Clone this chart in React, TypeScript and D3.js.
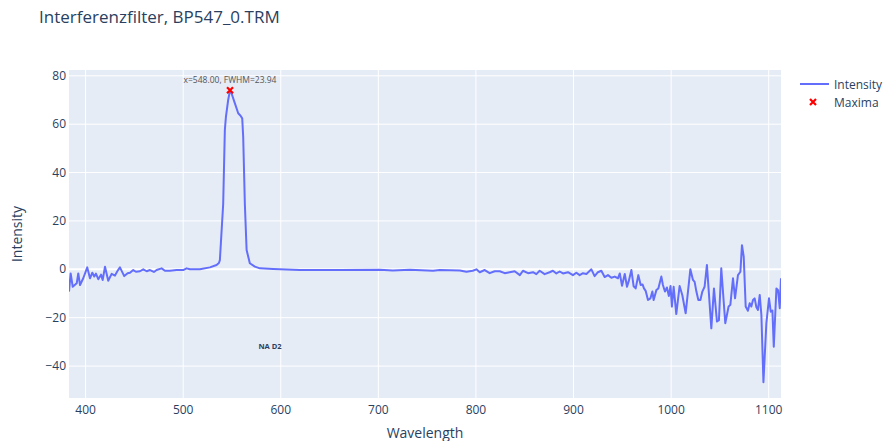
import React from "react";
import * as d3 from "d3";

const wavelength = [
  383.0, 384.7, 386.8, 390.9, 392.5, 394.3, 397.6, 401.7, 404.5, 406.9, 408.9, 410.6, 413.0, 415.8, 417.5, 419.9,
  423.2, 426.7, 430.1, 432.5, 435.2, 439.6, 443.1, 445.5, 448.8, 451.6, 455.7, 459.1, 462.6, 466.0, 470.0, 472.8,
  477.9, 481.3, 486.4, 493.3, 500.0, 503.5, 506.9, 517.1, 527.4, 534.2, 536.6, 537.6, 541.0, 542.7, 543.8, 546.1,
  548.0, 549.6, 553.0, 556.4, 558.8, 560.5, 561.5, 563.2, 565.0, 568.3, 573.5, 578.6, 592.2,
  619.5, 660.5, 701.5, 714.8, 732.2, 756.1, 763.0, 783.5, 790.3, 796.7, 800.5, 803.9, 809.0, 814.1, 819.2, 824.4,
  829.5, 834.6, 839.7, 845.0, 848.2, 853.4, 858.5, 861.9, 865.3, 870.4, 875.5, 878.9, 882.4, 885.8, 889.2, 894.3,
  899.4, 902.9, 906.3, 909.7, 913.2, 918.3, 921.6, 925.0, 928.5, 931.9, 935.3, 938.8, 942.2, 945.6, 947.4, 949.7,
  952.5, 954.8, 956.5, 959.3, 961.6, 963.7, 966.4, 968.8, 970.8, 972.2, 973.9, 976.3, 978.8, 980.8, 982.1, 984.9,
  986.9, 990.0, 991.6, 993.7, 995.7, 997.7, 999.4, 1000.8, 1002.6, 1005.3, 1008.7, 1011.5, 1014.9, 1019.7, 1022.4, 1024.1,
  1025.9, 1027.9, 1030.0, 1032.0, 1034.3, 1036.7, 1041.2, 1043.9, 1047.0, 1049.0, 1051.4, 1055.5, 1058.9, 1060.7, 1063.4, 1065.5,
  1068.5, 1071.0, 1072.6, 1074.4, 1076.4, 1078.7, 1080.5, 1082.2, 1083.9, 1085.6, 1087.4, 1089.0, 1090.8, 1092.5, 1094.6, 1097.6,
  1100.3, 1102.1, 1103.8, 1105.2, 1107.9, 1109.6, 1111.3, 1112.6,
];

const intensity = [
  -9.2, -1.7, -7.2, -5.8, -1.7, -6.5, -3.7, 0.8, -3.7, -1.4, -3.0, -1.8, -4.1, -2.2, -4.4, 1.1,
  -4.7, -1.9, -2.6, -0.8, 0.8, -2.8, -1.6, -1.4, -0.3, -1.0, -0.8, 0.0, -0.8, -0.3, -1.1, -0.3,
  0.4, -0.6, -0.6, -0.3, -0.3, 0.4, 0.0, 0.0, 0.8, 1.8, 2.6, 3.8, 27, 57.6, 63, 70,
  74, 72.7, 68.6, 64.5, 63.5, 62.4, 54.8, 27, 8, 2.5, 1.1, 0.4, 0.1,
  -0.3, -0.3, -0.2, -0.5, -0.2, -0.6, -0.3, -0.5, -1.0, -0.6, 0.0, -1.2, -0.3, -1.6, -0.8, -0.8,
  -1.6, -1.2, -0.8, -2.4, -0.6, -1.6, -1.2, -2.0, -0.6, -2.0, -1.2, -0.6, -1.7, -0.9, -1.7, -1.2,
  -2.4, -1.4, -2.4, -1.6, -1.9, 0.0, -2.8, -1.2, -0.6, -3.2, -2.4, -3.5, -3.0, -3.7, -1.7, -6.8,
  -1.9, -7.2, -5.0, -0.3, -7.0, -7.9, -2.4, -6.5, -6.3, -7.9, -8.9, -12.7, -12.0, -9.2, -12.7, -8.6,
  -7.9, -3.0, -6.5, -9.2, -7.5, -11.0, -6.9, -15.4, -7.2, -18.5, -6.9, -10.7, -18.2, 0.0, -4.4, -5.2,
  -9.2, -12.7, -12.7, -9.2, -7.2, 1.8, -24.4, -7.9, -21.6, -21.0, 0.4, -22.3, -15.4, -14.7, -3.7, -12.0,
  -2.4, -1.0, 10.0, 5.2, -15.4, -17.1, -14.0, -15.4, -12.7, -12.0, -15.7, -16.8, -10.6, -18.9, -46.7, -22.3,
  -12.0, -17.5, -17.0, -32.0, -7.9, -8.6, -16.1, -3.7,
];

const maximaX = [548.0];
const maximaY = [74.0];
const maximaLabels = ["x=548.00, FWHM=23.94"];

const xTicks = [400, 500, 600, 700, 800, 900, 1000, 1100];
const yTicks = [-40, -20, 0, 20, 40, 60, 80];

const W = 885;
const H = 441;
const L = 69, R = 781, T = 70, B = 398;
const FONT = '"Open Sans", verdana, arial, sans-serif';
const TXT = "#2a3f5f";

export default function App() {
  const x = d3.scaleLinear().domain([383.0, 1112.6]).range([L, R]);
  const y = d3.scaleLinear().domain([-53.2, 82.4]).range([B, T]);
  const pts = wavelength.map((w, i) => [w, intensity[i]] as [number, number]);
  const line = d3
    .line<[number, number]>()
    .x((d) => x(d[0]))
    .y((d) => y(d[1]))
    .curve(d3.curveLinear);
  const fmt = d3.format("d");

  return (
    <svg
      width={W}
      height={H}
      style={{ position: "absolute", left: 0, top: 0, background: "#fff" }}
      fontFamily={FONT}
    >
      <text x={39} y={23} fontSize={17} fill={TXT}>
        Interferenzfilter, BP547_0.TRM
      </text>
      <rect x={L} y={T} width={R - L} height={B - T} fill="#e5ecf6" />
      <defs>
        <clipPath id="plotclip">
          <rect x={L} y={T} width={R - L} height={B - T} />
        </clipPath>
      </defs>
      {xTicks.map((t) => (
        <line key={"gx" + t} x1={x(t)} x2={x(t)} y1={T} y2={B} stroke="#fff" strokeWidth={1} />
      ))}
      {yTicks.map((t) => (
        <line
          key={"gy" + t}
          x1={L}
          x2={R}
          y1={y(t)}
          y2={y(t)}
          stroke="#fff"
          strokeWidth={t === 0 ? 2 : 1}
        />
      ))}
      <g clipPath="url(#plotclip)">
        <path d={line(pts) || ""} fill="none" stroke="#636efa" strokeWidth={2} strokeLinejoin="round" />
      </g>
      {maximaX.map((mx, i) => {
        const cx = x(mx);
        const cy = y(maximaY[i]);
        const s = 3;
        return (
          <g key={"m" + i}>
            <path
              d={`M${cx - s},${cy - s}L${cx + s},${cy + s}M${cx - s},${cy + s}L${cx + s},${cy - s}`}
              stroke="red"
              strokeWidth={2.2}
            />
            <text x={cx} y={cy - 7.5} fontSize={8.5} fill="#555" textAnchor="middle">
              {maximaLabels[i]}
            </text>
          </g>
        );
      })}
      <text x={270} y={349} fontSize={7.5} fontWeight="bold" fill={TXT} textAnchor="middle">
        NA D2
      </text>
      {xTicks.map((t) => (
        <text key={"tx" + t} x={x(t)} y={414} fontSize={12} fill={TXT} textAnchor="middle">
          {fmt(t)}
        </text>
      ))}
      {yTicks.map((t) => (
        <text key={"ty" + t} x={66} y={y(t) + 4} fontSize={12} fill={TXT} textAnchor="end">
          {fmt(t)}
        </text>
      ))}
      <text x={(L + R) / 2} y={438} fontSize={14} fill={TXT} textAnchor="middle">
        Wavelength
      </text>
      <text
        transform={`translate(22,${(T + B) / 2}) rotate(-90)`}
        fontSize={14}
        fill={TXT}
        textAnchor="middle"
      >
        Intensity
      </text>
      <line x1={800} x2={829} y1={84} y2={84} stroke="#636efa" strokeWidth={2} />
      <text x={834} y={88.5} fontSize={12} fill={TXT}>
        Intensity
      </text>
      <path d="M810,99L816,105M810,105L816,99" stroke="red" strokeWidth={2.2} />
      <text x={834} y={106.5} fontSize={12} fill={TXT}>
        Maxima
      </text>
    </svg>
  );
}
